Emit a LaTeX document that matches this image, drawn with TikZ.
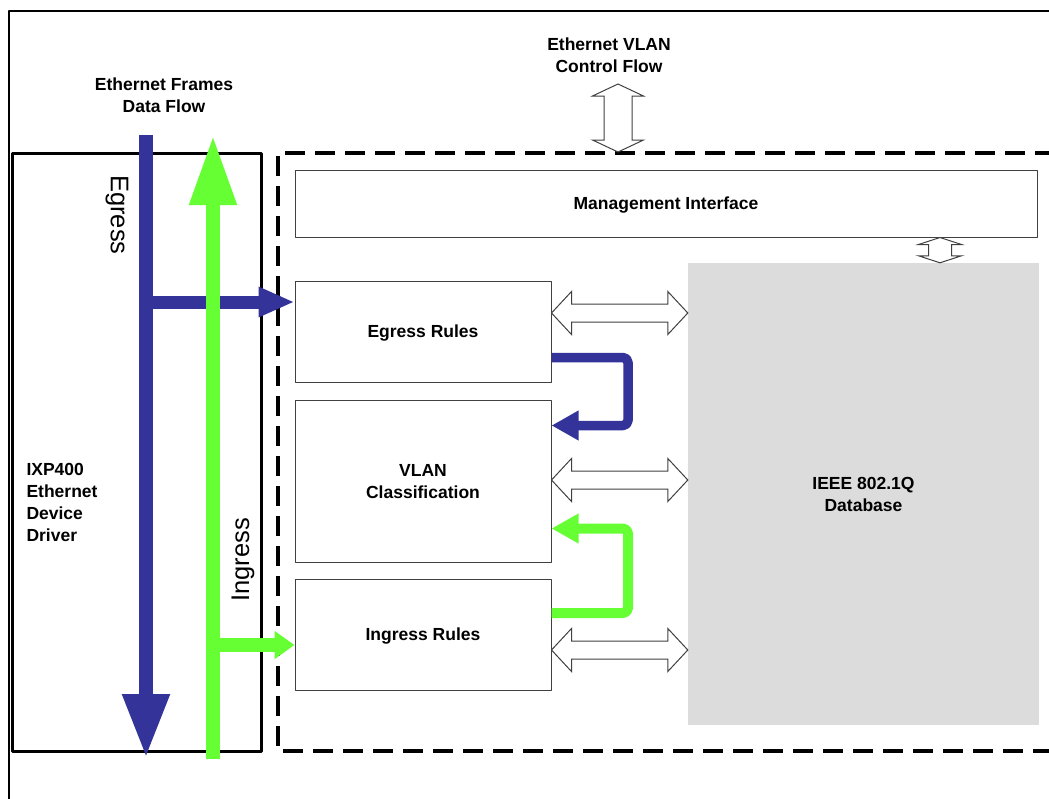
\documentclass[tikz,border=0pt]{standalone}
\usepackage{fontspec}
\setmainfont{Liberation Sans}
\usepackage{tikz}
\usetikzlibrary{arrows.meta,positioning,calc}
\definecolor{egBlue}{HTML}{333399}
\definecolor{inGreen}{HTML}{66FF33}
\definecolor{dbGray}{HTML}{DCDCDC}
\definecolor{boxLine}{HTML}{404040}

% hollow double arrow, horizontal: left tip #1, right tip #2
\newcommand{\hboth}[2]{%
  \draw[hollow] (#1) -- ++(20,-21.5) -- ++(0,12.5) -- ($(#2)+(-20,-9)$) -- ++(0,-12.5)
    -- (#2) -- ++(-20,21.5) -- ++(0,-12.5) -- ($(#1)+(20,9)$) -- ++(0,12.5) -- cycle;}
% hollow double arrow, vertical: top #1, bottom #2, head length #3, half head #4, half shaft #5
\newcommand{\vboth}[5]{%
  \draw[hollow] (#1) -- ++(#4,#3) -- ++(-#4+#5,0) -- ($(#2)+(#5,-#3)$) -- ++(#4-#5,0)
    -- (#2) -- ++(-#4,-#3) -- ++(#4-#5,0) -- ($(#1)+(-#5,#3)$) -- ++(-#4+#5,0) -- cycle;}

\tikzset{
  lbl/.style={font=\fontsize{17.5}{22}\selectfont\bfseries,align=center},
  rulebox/.style={draw=boxLine,line width=1pt,inner sep=0pt,text depth=0pt,lbl},
  hollow/.style={draw=boxLine,fill=white,line width=1pt,line join=miter},
  flowtext/.style={font=\fontsize{25.5}{28}\selectfont,inner sep=0pt}
}

\begin{document}
\begin{tikzpicture}[x=1pt,y=-1pt,line join=round]
    \useasboundingbox (0,0) rectangle (1049,798);
    % outer frame (cut off right and bottom)
    \draw[line width=1.6pt] (9,805) |- (1055,11);
    % driver block
    \node[draw,line width=3pt,minimum width=249,minimum height=598,inner sep=0pt]
       (driver) at (136.5,452) {};
    \node[lbl,align=left,anchor=west] (drvtxt) at (23,502)
       {IXP400\\Ethernet\\Device\\Driver};
    % VLAN module, dashed boundary
    \coordinate (dTR) at (1055,153);
    \coordinate (dBL) at (278,751);
    \draw[line width=3.5pt,dash pattern=on 20pt off 10pt] (dTR) -| (dBL) -- (1055,751);
    \node[rulebox,minimum width=742,minimum height=67] (mgmt) at (666,203.5)
       {Management Interface};
    \node[rulebox,minimum width=256,minimum height=101] (egress) at (423,331.5)
       {Egress Rules};
    \node[rulebox,minimum width=256,minimum height=162] (vlan) at (423,481)
       {VLAN\\Classification};
    \node[rulebox,minimum width=256,minimum height=111] (ingress) at (423,634.5)
       {Ingress Rules};
    \node[lbl,fill=dbGray,inner sep=0pt,minimum width=351,minimum height=462]
       (db) at (863.5,494) {IEEE 802.1Q\\Database};
    % headings
    \node[lbl] (datahd) at (164,95) {Ethernet Frames\\Data Flow};
    \node[lbl] (ctrlhd) at (609,55) {Ethernet VLAN\\Control Flow};
    % control flow arrows
    \coordinate (ctlA) at (618,84);
    \coordinate (ctlB) at (618,152);
    \vboth{ctlA}{ctlB}{12}{25.5}{14}
    \coordinate (mgA) at (mgmt.south -| 940,0);
    \coordinate (mgB) at (db.north -| 940,0);
    \vboth{mgA}{mgB}{7}{21.5}{11.5}
    \coordinate (e1) at (egress.east |- 0,313);
    \coordinate (e2) at (db.west |- 0,313);
    \hboth{e1}{e2}
    \coordinate (v1) at (vlan.east |- 0,480);
    \coordinate (v2) at (db.west |- 0,480);
    \hboth{v1}{v2}
    \coordinate (i1) at (ingress.east |- 0,650);
    \coordinate (i2) at (db.west |- 0,650);
    \hboth{i1}{i2}
    % egress data flow
    \coordinate (egTop) at (146,135);
    \coordinate (egBot) at (146,758);
    \coordinate (egTap) at (146,302);
    \draw[egBlue,line width=14pt,-{Triangle[length=64pt,width=44pt]}] (egTop) -- (egBot);
    \draw[egBlue,line width=13pt,-{Triangle[length=36pt,width=28pt]}] (egTap) -- (egress.west |- egTap);
    \draw[egBlue,line width=9.5pt,rounded corners=5pt,-{Triangle[length=27pt,width=28pt]}]
       (egress.east |- 0,357.5) -| (628,425.5) -- (vlan.east |- 0,425.5);
    % ingress data flow
    \coordinate (inBot) at (213,759);
    \coordinate (inTop) at (213,135);
    \coordinate (inTap) at (213,645);
    \draw[inGreen,line width=14pt,-{Triangle[length=70pt,width=44pt]}] (inBot) -- (inTop);
    \draw[inGreen,line width=14pt,-{Triangle[length=20pt,width=27pt]}] (inTap) -- (ingress.west |- inTap);
    \draw[inGreen,line width=10pt,rounded corners=5pt,-{Triangle[length=27pt,width=28pt]}]
       (ingress.east |- 0,613) -| (628,528.5) -- (vlan.east |- 0,528.5);
    % direction labels
    \node[flowtext,rotate=-90] (egtxt) at (117,215) {Egress};
    \node[flowtext,rotate=90] (intxt) at (243,560) {Ingress};
\end{tikzpicture}
\end{document}
